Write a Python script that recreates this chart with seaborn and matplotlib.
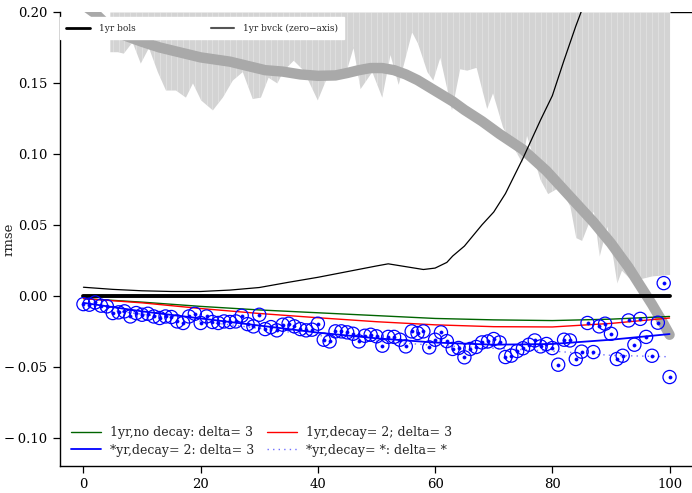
import numpy as np
import pandas as pd
import seaborn as sns
import matplotlib.pyplot as plt

# data
pt_x = list(range(101))
pt_y = [-0.0059, -0.0063, -0.0047, -0.0070, -0.0075, -0.0122, -0.0117, -0.0110, -0.0146, -0.0122,
        -0.0134, -0.0127, -0.0146, -0.0157, -0.0146, -0.0150, -0.0181, -0.0192, -0.0146, -0.0127,
        -0.0192, -0.0146, -0.0185, -0.0192, -0.0181, -0.0185, -0.0181, -0.0141, -0.0200, -0.0216,
        -0.0134, -0.0235, -0.0221, -0.0244, -0.0204, -0.0197, -0.0216, -0.0235, -0.0244, -0.0239,
        -0.0197, -0.0310, -0.0322, -0.0251, -0.0251, -0.0258, -0.0268, -0.0322, -0.0282, -0.0275,
        -0.0286, -0.0352, -0.0290, -0.0290, -0.0310, -0.0357, -0.0251, -0.0263, -0.0251, -0.0364,
        -0.0310, -0.0258, -0.0320, -0.0375, -0.0368, -0.0434, -0.0375, -0.0361, -0.0329, -0.0322,
        -0.0305, -0.0329, -0.0432, -0.0422, -0.0390, -0.0370, -0.0345, -0.0315, -0.0357, -0.0340,
        -0.0369, -0.0486, -0.0310, -0.0315, -0.0446, -0.0394, -0.0192, -0.0397, -0.0216, -0.0197,
        -0.0268, -0.0446, -0.0423, -0.0174, -0.0345, -0.0163, -0.0290, -0.0423, -0.0190, 0.0089,
        -0.0573]

# smooth fits (read at anchor points)
fit_x = [0, 10, 20, 30, 40, 50, 60, 70, 80, 90, 100]
green_y = [-0.002, -0.0045, -0.0075, -0.010, -0.012, -0.014, -0.016, -0.017, -0.0175, -0.0165, -0.0146]
red_y = [-0.002, -0.005, -0.009, -0.0125, -0.0155, -0.0183, -0.0205, -0.0218, -0.022, -0.0195, -0.0157]
blue_y = [-0.005, -0.011, -0.016, -0.021, -0.026, -0.030, -0.033, -0.0345, -0.034, -0.031, -0.027]
dot_y = [-0.008, -0.013, -0.018, -0.023, -0.028, -0.032, -0.035, -0.037, -0.039, -0.042, -0.043]

bols_x = [0, 100]
bols_y = [0.0, 0.0]

bvck_x = [0, 5, 10, 15, 20, 25, 30, 35, 40, 45, 50, 52, 55, 58, 60, 62, 63, 65, 66, 68, 70, 72, 75,
          78, 80, 82, 84, 86, 88]
bvck_y = [0.006, 0.0045, 0.0035, 0.003, 0.003, 0.004, 0.0058, 0.0095, 0.013, 0.017, 0.021, 0.0225,
          0.0205, 0.0185, 0.0195, 0.0235, 0.028, 0.035, 0.040, 0.050, 0.059, 0.072, 0.097, 0.124,
          0.141, 0.166, 0.19, 0.212, 0.24]

band_x = [0, 1, 2, 3, 4, 5, 6, 8, 10, 13, 16, 20, 25, 28, 31, 34, 37, 40, 43, 45, 47, 49, 51, 53, 55,
          57, 59, 61, 63, 65, 68, 71, 75, 79, 83, 87, 90, 93, 95, 97, 99, 100]
band_y = [0.205, 0.202, 0.199, 0.195, 0.191, 0.188, 0.185, 0.182, 0.179, 0.175, 0.172, 0.168, 0.165,
          0.162, 0.159, 0.158, 0.156, 0.155, 0.1553, 0.157, 0.159, 0.1605, 0.1605, 0.159, 0.156,
          0.152, 0.147, 0.142, 0.137, 0.131, 0.123, 0.114, 0.103, 0.088, 0.070, 0.052, 0.037, 0.020,
          0.007, -0.006, -0.020, -0.0275]

poly_x = [4.5, 5.8, 6.8, 8.3, 9.7, 11.1, 12.6, 14, 15.7, 17.4, 18.6, 20, 22, 23.7, 25.4, 27.1, 28.8, 30.2,
          31.5, 33, 34.1, 35.8, 37.5, 39.9, 41.5, 43.3, 45, 46, 47.2, 49.2, 50.9, 52.3, 53.7, 56, 57,
          58.6, 59.6, 60.8, 62.8, 64.2, 65.4, 67, 68.8, 69.8, 71.5, 73.3, 74.8, 75.6, 77.9, 79.2, 81.3,
          83, 84, 85, 87, 88, 89.3, 90.4, 91, 91.8, 93, 95, 97, 100]
poly_y = [0.172, 0.172, 0.171, 0.179, 0.164, 0.175, 0.158, 0.145, 0.145, 0.140, 0.150, 0.138, 0.131,
          0.140, 0.152, 0.158, 0.139, 0.140, 0.154, 0.150, 0.159, 0.166, 0.159, 0.138, 0.154, 0.154,
          0.161, 0.175, 0.146, 0.158, 0.140, 0.170, 0.149, 0.186, 0.178, 0.158, 0.152, 0.168, 0.131,
          0.160, 0.159, 0.161, 0.132, 0.143, 0.119, 0.105, 0.094, 0.113, 0.082, 0.072, 0.077, 0.063,
          0.041, 0.039, 0.060, 0.028, 0.049, 0.025, 0.009, 0.018, 0.013, 0.012, 0.014, 0.015]
poly_top = 0.2

y_ticks = [-0.10, -0.05, 0.00, 0.05, 0.10, 0.15, 0.20]
y_ticklabels = ["\u2212\u20090.10", "\u2212\u20090.05", "0.00", "0.05", "0.10", "0.15", "0.20"]
x_ticks = [0, 20, 40, 60, 80, 100]

sns.set_style("ticks")
plt.rcParams['font.family'] = ['DejaVu Serif']

fig = plt.figure(figsize=(6.92, 4.93), dpi=100)
ax = fig.add_axes([60 / 692, 27 / 493, 633 / 692, 454 / 493])

# grey area with faint vertical stripes
ax.fill_between(poly_x, poly_y, poly_top, color="#d3d3d3", lw=0, zorder=1)
stripe_x = np.arange(5, 101)
ax.vlines(stripe_x, np.interp(stripe_x, poly_x, poly_y), poly_top, color="white", alpha=0.3, lw=0.6, zorder=1.1)

sns.lineplot(x=band_x, y=band_y, color="#a9a9a9", lw=7.5, ax=ax, zorder=2, estimator=None, sort=False)
sns.lineplot(x=bols_x, y=bols_y, color="black", lw=2.8, ax=ax, zorder=3, estimator=None)
sns.lineplot(x=bvck_x, y=bvck_y, color="black", lw=0.9, ax=ax, zorder=3, estimator=None)

df_fit = pd.DataFrame({"x": fit_x, "green": green_y, "red": red_y, "blue": blue_y, "dot": dot_y})
sns.lineplot(data=df_fit, x="x", y="green", color="darkgreen", lw=1.0, ax=ax, zorder=4)
sns.lineplot(data=df_fit, x="x", y="red", color="red", lw=1.0, ax=ax, zorder=4)
sns.lineplot(data=df_fit, x="x", y="blue", color="blue", lw=1.3, ax=ax, zorder=4)
sns.lineplot(data=df_fit, x="x", y="dot", color="#6f6fff", lw=1.0, ls=(0, (1, 3)), ax=ax, zorder=4)

sns.scatterplot(x=pt_x, y=pt_y, marker="o", s=90, facecolor="none", edgecolor="blue", linewidth=0.9,
                ax=ax, zorder=5)
sns.scatterplot(x=pt_x, y=pt_y, marker="o", s=5, color="blue", edgecolor="blue", linewidth=0.5,
                ax=ax, zorder=5)

ax.set_xlim(-4, 104)
ax.set_ylim(-0.12, 0.20)
ax.set_xticks(x_ticks)
ax.set_yticks(y_ticks)
ax.set_yticklabels(y_ticklabels)
ax.tick_params(direction="out", length=5, width=0.9, labelsize=9.5, colors="black", pad=4)
ax.set_xlabel("")
ax.set_ylabel("rmse", fontsize=9.5)
ax.yaxis.set_label_coords(-0.07, 0.5)
for s in ["top", "right"]:
    ax.spines[s].set_visible(False)
for s in ["left", "bottom"]:
    ax.spines[s].set_linewidth(1.0)
    ax.spines[s].set_color("black")
ax.hlines(poly_top, 100, 104, color="black", lw=1.0, zorder=6)

# top legend
h1, = ax.plot([], [], color="black", lw=2)
h2, = ax.plot([], [], color="#555555", lw=1.5)
leg1 = ax.legend([h1, h2], ["1yr bols", "1yr bvck (zero\u2212axis)"], loc="upper left", ncol=2,
                 bbox_to_anchor=(0.0, 0.988), fontsize=6.5, frameon=True, fancybox=False,
                 framealpha=1, edgecolor="white", borderaxespad=0, handlelength=2.6,
                 columnspacing=8.3, handletextpad=1.0, borderpad=0.7)
leg1.set_zorder(10)
ax.add_artist(leg1)

# bottom legend
g1, = ax.plot([], [], color="darkgreen", lw=1)
g2, = ax.plot([], [], color="red", lw=1)
g3, = ax.plot([], [], color="blue", lw=1.3)
g4, = ax.plot([], [], color="#6f6fff", lw=1, ls=(0, (1, 3)))
leg2 = ax.legend([g1, g3, g2, g4],
                 ["1yr,no decay: delta= 3", "*yr,decay= 2: delta= 3",
                  "1yr,decay= 2; delta= 3", "*yr,decay= *: delta= *"],
                 loc="lower left", bbox_to_anchor=(0.0, -0.004), ncol=2, fontsize=9,
                 frameon=False, handlelength=2.4, handletextpad=0.7, columnspacing=1.0,
                 labelspacing=0.35)

fig.savefig("out.png", dpi=100)
